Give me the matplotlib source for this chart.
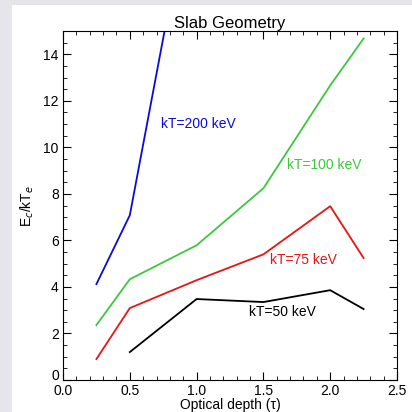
import matplotlib
matplotlib.use("Agg")
import matplotlib.pyplot as plt
from matplotlib.patches import Rectangle
from matplotlib.ticker import MultipleLocator
from matplotlib.transforms import ScaledTranslation

plt.rcParams['font.family'] = ['Liberation Sans', 'DejaVu Sans']

# optical depth values and E_c/kT_e for each temperature
tau_200 = [0.25, 0.5, 1.0]
kt200 = [4.12, 7.08, 22.3]

tau = [0.25, 0.5, 1.0, 1.5, 2.0, 2.25]
kt100 = [2.36, 4.33, 5.79, 8.24, 12.66, 14.68]
kt75 = [0.90, 3.09, 4.29, 5.40, 7.47, 5.24]

tau_50 = [0.5, 1.0, 1.5, 2.0, 2.25]
kt50 = [1.20, 3.48, 3.35, 3.86, 3.05]

fig = plt.figure(figsize=(4.12, 4.12), dpi=100, facecolor='#e6e5ec')
bg = Rectangle((12 / 412, 0), 1, 1 - 5 / 412, transform=fig.transFigure,
               facecolor='white', edgecolor='none', zorder=-10)
fig.add_artist(bg)
ax = fig.add_axes([63 / 412, 1 - 380 / 412, 334 / 412, 349 / 412])
ax.set_zorder(5)

lw = 1.3
ax.plot(tau_200, kt200, color='#0a0adc', lw=lw)
ax.plot(tau, kt100, color='#3cc83c', lw=lw)
ax.plot(tau, kt75, color='#e81414', lw=lw)
ax.plot(tau_50, kt50, color='black', lw=lw)

ax.text(0.73, 11.0, 'kT=200 keV', color='#0a0adc', fontsize=10, va='center')
ax.text(1.68, 9.23, 'kT=100 keV', color='#3cc83c', fontsize=10, va='center')
ax.text(1.55, 5.15, 'kT=75 keV', color='#e81414', fontsize=10, va='center')
ax.text(1.39, 2.92, 'kT=50 keV', color='black', fontsize=10, va='center')

ax.set_xlim(0, 2.5)
ax.set_ylim(0, 15)
ax.xaxis.set_minor_locator(MultipleLocator(0.1))
ax.yaxis.set_minor_locator(MultipleLocator(0.5))
ax.tick_params(which='both', direction='in', top=True, right=True, labelsize=10)
ax.tick_params(which='major', length=6)
ax.tick_params(axis='x', which='major', pad=3)
ax.tick_params(axis='y', which='major', pad=3)
ax.tick_params(which='minor', length=3)
ax.set_xticks([0, 0.5, 1.0, 1.5, 2.0, 2.5])
ax.set_xticklabels(['0.0', '0.5', '1.0', '1.5', '2.0', '2.5'])
ax.set_yticks([0, 2, 4, 6, 8, 10, 12, 14])
ax.set_yticklabels(['0', '2', '4', '6', '8', '10', '12', '14'])

# the zero on the y axis sits a little above the corner, as in IDL output
lab0 = ax.get_yticklabels()[0]
lab0.set_transform(lab0.get_transform() + ScaledTranslation(0, 0.05, fig.dpi_scale_trans))

ax.set_title('Slab Geometry', fontsize=12, pad=2)
ax.set_xlabel('Optical depth (τ)', fontsize=10, labelpad=0)
ax.set_ylabel(r'E$_c$/kT$_e$', fontsize=10, labelpad=5)

fig.savefig('out.png', dpi=100, facecolor=fig.get_facecolor())
